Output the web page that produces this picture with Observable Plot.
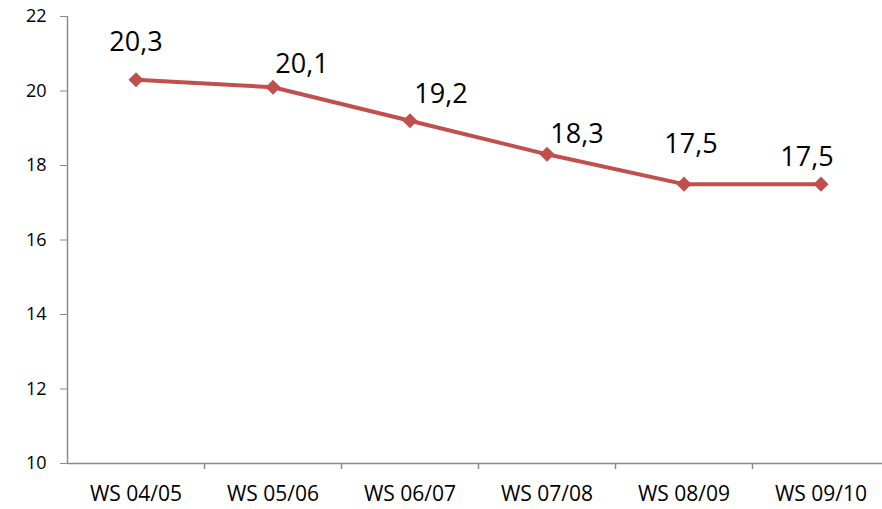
<!DOCTYPE html>
<html>
<head>
<meta charset="utf-8">
<script src="https://cdn.jsdelivr.net/npm/d3@7"></script>
<script src="https://cdn.jsdelivr.net/npm/@observablehq/plot@0.6"></script>
<style>
  html, body { margin: 0; padding: 0; background: #fff; }
  svg { display: block; }
</style>
</head>
<body>
<div id="chart"></div>
<script>
const semesters = ["WS 04/05", "WS 05/06", "WS 06/07", "WS 07/08", "WS 08/09", "WS 09/10"];
const values = [20.3, 20.1, 19.2, 18.3, 17.5, 17.5];
const yTicks = [10, 12, 14, 16, 18, 20, 22];

const data = semesters.map((s, i) => ({semester: s, value: values[i]}));

// label offsets (pixels) relative to each point, mimicking the reference placement
const labelOffsets = [[0, -37], [29, -23], [31, -26], [30, -20], [7, -40], [-14, -27]];

const W = 882, H = 509;
const x0 = 67, bw = 137;
const axisGrey = "#8c8c8c";
const red = "#C0504D";

const chart = Plot.plot({
  width: W,
  height: H,
  marginLeft: x0,
  marginRight: 0,
  marginTop: 16,
  marginBottom: 46,
  style: {fontFamily: "'Open Sans', sans-serif", color: "#000", background: "#fff"},
  x: {type: "band", domain: semesters, range: [x0, x0 + bw * semesters.length], padding: 0, label: null},
  y: {domain: [10, 22], label: null},
  marks: [
    Plot.axisY({ticks: yTicks, tickSize: 7, tickPadding: 14, stroke: axisGrey, fontSize: 18, tickFormat: d => d, label: null}),
    Plot.axisX({tickSize: 0, tickPadding: 23, fontSize: 21, label: null}),
    Plot.ruleY([10], {stroke: axisGrey, strokeWidth: 1.5}),
    Plot.ruleX([semesters[0]], {x: d => d, dx: -bw / 2, stroke: axisGrey, strokeWidth: 1.5}),
    Plot.ruleX(semesters.slice(1), {x: d => d, dx: -bw / 2, y1: 10, y2: 10, insetBottom: -6, stroke: axisGrey, strokeWidth: 1.5}),
    Plot.line(data, {x: "semester", y: "value", stroke: red, strokeWidth: 4}),
    Plot.dot(data, {x: "semester", y: "value", symbol: "diamond2", r: 6.8, fill: red, stroke: "none"}),
    ...data.map((d, i) => Plot.text([d], {
      x: "semester", y: "value",
      text: v => v.value.toFixed(1).replace(".", ","),
      dx: labelOffsets[i][0], dy: labelOffsets[i][1],
      fontSize: 27, fill: "#000"
    }))
  ]
});
document.getElementById("chart").appendChild(chart);
</script>
</body>
</html>
